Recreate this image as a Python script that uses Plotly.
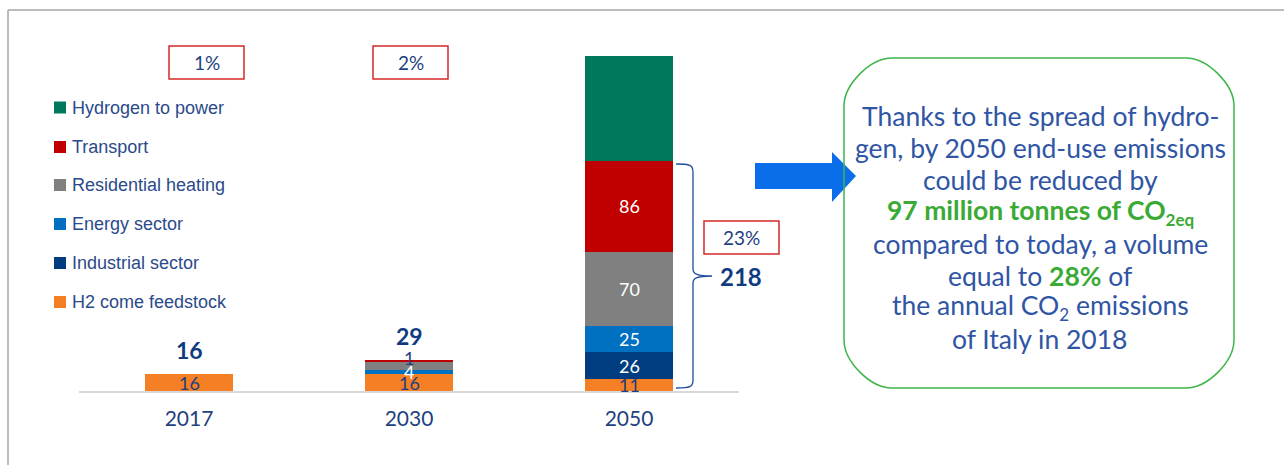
import plotly.graph_objects as go

# ---------------- data ----------------
years = ["2017", "2030", "2050"]
h2_feedstock = [16, 16, 11]
industrial = [0, 0, 26]
energy = [0, 4, 25]
residential = [0, 8, 70]
transport = [0, 1, 86]
h2_power = [0, 0, 100]

series_names = ["H2 come feedstock", "Industrial sector", "Energy sector",
                "Residential heating", "Transport", "Hydrogen to power"]
series_values = [h2_feedstock, industrial, energy, residential, transport, h2_power]
series_colors = ["#F47F24", "#003C80", "#0070C0", "#808080", "#C00000", "#00785C"]

# segment labels shown: (series index, year index, text colour key)
segment_labels = [(0, 0, "d"), (0, 1, "d"), (2, 1, "w"), (4, 1, "d"),
                  (0, 2, "d"), (1, 2, "w"), (2, 2, "w"), (3, 2, "w"), (4, 2, "w")]
share_labels = ["1%", "2%", "23%"]

right_lines = [
    "Thanks to the spread of hydro-",
    "gen, by 2050 end-use emissions",
    "could be reduced by",
    "<b><span style='color:#3AAA35'>97 million tonnes of CO<sub><span style='font-size:17px'>2eq</span></sub></span></b>",
    "compared to today, a volume",
    "equal to <b><span style='color:#3AAA35'>28%</span></b> of",
    "the annual CO<sub><span style='font-size:17px'>2</span></sub> emissions",
    "of Italy in 2018",
]

# ---------------- geometry helpers ----------------
W, H = 1284, 465
BASE_PX, TOP_PX = 391, 40
PX_PER_UNIT = 1.055
YMAX = (BASE_PX - TOP_PX) / PX_PER_UNIT


def X(px):
    return px / W


def Y(py):
    return 1 - py / H


def ypx(v):
    return BASE_PX - v * PX_PER_UNIT


DARK = "#1F3F7F"
TXT = "#2F55A4"

fig = go.Figure()
for name, vals, col in zip(series_names, series_values, series_colors):
    fig.add_trace(go.Bar(x=years, y=vals, name=name, marker_color=col,
                         marker_line_width=0, showlegend=False, hoverinfo="skip"))

annotations = []
shapes = []

# segment value labels
for si, yi, ck in segment_labels:
    below = sum(series_values[k][yi] for k in range(si))
    v = series_values[si][yi]
    annotations.append(dict(x=yi, y=below + v / 2, xref="x", yref="y",
                            xanchor="center", yanchor="middle",
                            text=str(v), showarrow=False,
                            yshift=3 if v < 3 else 0,
                            font=dict(family="Lato", size=18,
                                      color="white" if ck == "w" else DARK)))

# totals
totals = [sum(s[i] for s in series_values) for i in range(3)]
for yi in range(2):
    annotations.append(dict(x=yi, y=totals[yi], xref="x", yref="y",
                            text=f"<b>{totals[yi]}</b>", showarrow=False,
                            xanchor="center", yanchor="middle", yshift=24,
                            font=dict(family="Lato", size=23, color="#0F3C80")))
enduse_2050 = sum(s[2] for s in series_values[:5])
annotations.append(dict(x=X(741), y=enduse_2050 / 2, xref="paper", yref="y",
                        xanchor="center", yanchor="middle",
                        text=f"<b>{enduse_2050}</b>", showarrow=False,
                        font=dict(family="Lato", size=24, color="#0F3C80")))

# share boxes
boxes = [(169, 46, 244, 79), (373, 46, 448, 79), (704, 221, 779, 254)]
for (x0, y0, x1, y1), lab in zip(boxes, share_labels):
    shapes.append(dict(type="rect", xref="paper", yref="paper",
                       x0=X(x0), x1=X(x1), y0=Y(y0), y1=Y(y1),
                       line=dict(color="#D42A2A", width=1.5), fillcolor="white"))
    annotations.append(dict(x=X((x0 + x1) / 2), y=Y((y0 + y1) / 2),
                            xref="paper", yref="paper", text=lab, showarrow=False,
                            xanchor="center", yanchor="middle",
                            font=dict(family="Lato", size=19, color=DARK)))

# bracket for 2050 end-use
yt = ypx(enduse_2050) + 3
yb = BASE_PX - 3
ym = ypx(enduse_2050 / 2)
xe, xs, xt = 676, 693, 712
pts = (f"M {X(xe)},{Y(yt)} C {X(xs - 3)},{Y(yt)} {X(xs)},{Y(yt + 1)} {X(xs)},{Y(yt + 8)} "
       f"L {X(xs)},{Y(ym - 7)} C {X(xs)},{Y(ym - 2)} {X(xs + 4)},{Y(ym)} {X(xt)},{Y(ym)} "
       f"M {X(xt)},{Y(ym)} C {X(xs + 4)},{Y(ym)} {X(xs)},{Y(ym + 2)} {X(xs)},{Y(ym + 7)} "
       f"L {X(xs)},{Y(yb - 8)} C {X(xs)},{Y(yb - 1)} {X(xs - 3)},{Y(yb)} {X(xe)},{Y(yb)}")
shapes.append(dict(type="path", xref="paper", yref="paper", path=pts,
                   line=dict(color="#1F4E9A", width=1.3)))

# frame lines
shapes.append(dict(type="line", xref="paper", yref="paper", x0=X(8), x1=1,
                   y0=Y(10), y1=Y(10), line=dict(color="#A6A6A6", width=1.5)))
shapes.append(dict(type="line", xref="paper", yref="paper", x0=X(8), x1=X(8),
                   y0=Y(10), y1=0, line=dict(color="#A6A6A6", width=1.5)))

# manual legend
leg_y = [302, 263, 224, 185, 147, 107.5]
for name, col, cy in zip(series_names, series_colors, leg_y):
    shapes.append(dict(type="rect", xref="paper", yref="paper",
                       x0=X(54), x1=X(66), y0=Y(cy - 6), y1=Y(cy + 6),
                       line=dict(width=0), fillcolor=col))
    annotations.append(dict(x=X(70), y=Y(cy), xref="paper", yref="paper",
                            xanchor="left", yanchor="middle", text=name,
                            showarrow=False,
                            font=dict(family="Liberation Sans", size=18, color="#2B4A8A")))

# blue arrow
arrow = [(755, 163), (832, 163), (832, 152), (856, 176), (832, 202), (832, 189), (755, 189)]
ap = "M " + " L ".join(f"{X(a)},{Y(b)}" for a, b in arrow) + " Z"
shapes.append(dict(type="path", xref="paper", yref="paper", path=ap,
                   fillcolor="#0A6EEA", line=dict(width=0)))

# rounded box
bx0, by0, bx1, by1, r = 844, 58, 1234, 388, 48
k = 0.45 * r
rp = (f"M {X(bx0 + r)},{Y(by0)} L {X(bx1 - r)},{Y(by0)} "
      f"C {X(bx1 - r + k)},{Y(by0)} {X(bx1)},{Y(by0 + r - k)} {X(bx1)},{Y(by0 + r)} "
      f"L {X(bx1)},{Y(by1 - r)} "
      f"C {X(bx1)},{Y(by1 - r + k)} {X(bx1 - r + k)},{Y(by1)} {X(bx1 - r)},{Y(by1)} "
      f"L {X(bx0 + r)},{Y(by1)} "
      f"C {X(bx0 + r - k)},{Y(by1)} {X(bx0)},{Y(by1 - r + k)} {X(bx0)},{Y(by1 - r)} "
      f"L {X(bx0)},{Y(by0 + r)} "
      f"C {X(bx0)},{Y(by0 + r - k)} {X(bx0 + r - k)},{Y(by0)} {X(bx0 + r)},{Y(by0)} Z")
shapes.append(dict(type="path", xref="paper", yref="paper", path=rp,
                   line=dict(color="#3DB54A", width=1.5)))

line_y = [116, 148, 180, 212, 244, 276, 307, 339]
for txt, ly in zip(right_lines, line_y):
    annotations.append(dict(x=X(1040), y=Y(ly), xref="paper", yref="paper",
                            text=txt, showarrow=False,
                            xanchor="center", yanchor="middle",
                            font=dict(family="Lato", size=26.5, color=TXT)))

fig.update_layout(
    width=W, height=H, autosize=False,
    margin=dict(l=0, r=0, t=0, b=0),
    paper_bgcolor="white", plot_bgcolor="white",
    barmode="stack", bargap=0.6,
    showlegend=False,
    xaxis=dict(domain=[X(79), X(739)], range=[-0.5, 2.5], type="category",
               showline=True, linecolor="#D9D9D9", linewidth=1.5,
               showgrid=False, zeroline=False, ticks="",
               ticklabelstandoff=8,
               tickfont=dict(family="Lato", size=21, color=DARK)),
    yaxis=dict(domain=[Y(BASE_PX), Y(TOP_PX)], range=[0, YMAX], visible=False),
    shapes=shapes, annotations=annotations,
)

fig.write_html("out.html", config={"displayModeBar": False},
               post_script="document.body.style.margin='0px';document.body.style.overflow='hidden';")
